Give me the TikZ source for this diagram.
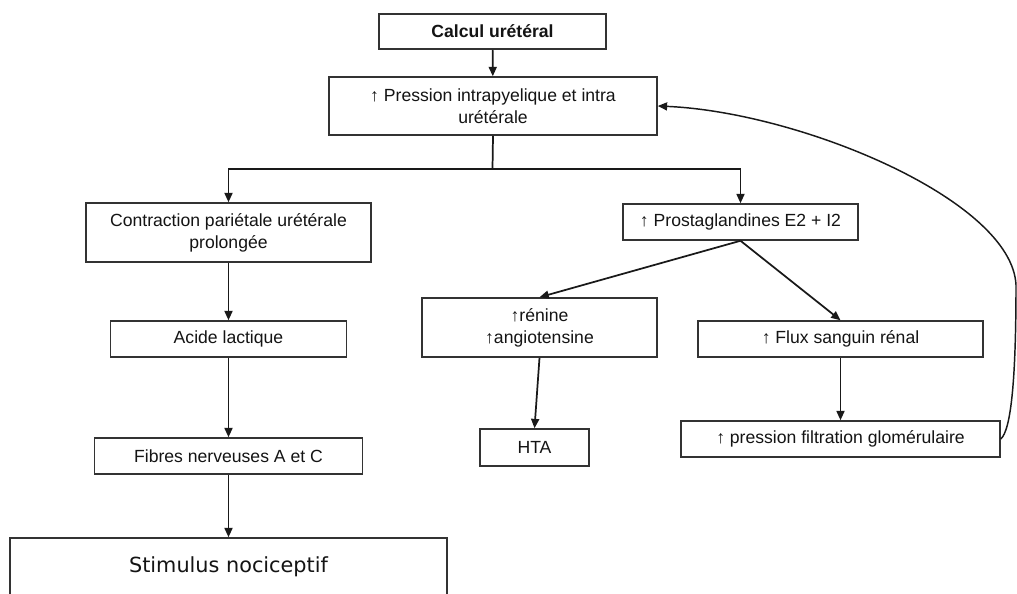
\documentclass[tikz,border=0pt]{standalone}
\usepackage{fontspec}
\setmainfont{Liberation Sans}
\newfontfamily\stimfont{DejaVu Sans}
\usetikzlibrary{arrows.meta}
\begin{document}
\begin{tikzpicture}[x=0.75pt,y=-0.75pt,
  box/.style={draw=black!80,line width=1.15pt,rectangle,inner sep=0pt,align=center,
    font=\fontsize{13.2}{16.5}\selectfont,text=black!92},
  arr/.style={line width=1.3pt,draw=black!90,-{Triangle[length=7pt,width=6pt]}},
  link/.style={line width=1.3pt,draw=black!90},
]
\path[use as bounding box] (0,0) rectangle (1017,593);
\clip (0,0) rectangle (1017,593);
\fill[white] (0,0) rectangle (1017,593);

\node[box,minimum width=170.25pt,minimum height=26.25pt] (calc) at (492.5,31.5) {\bfseries Calcul urétéral};
\node[box,minimum width=246pt,minimum height=43.5pt] (press) at (493,106) {↑ Pression intrapyelique et intra\\urétérale};
\node[box,minimum width=213.75pt,minimum height=44.25pt] (contr) at (228.5,232.5) {Contraction pariétale urétérale\\prolongée};
\node[box,minimum width=177pt,minimum height=27pt] (acide) at (228.5,339) {Acide lactique};
\node[box,minimum width=201pt,minimum height=27pt] (fibres) at (228.5,456) {Fibres nerveuses A et C};
\node[box,minimum width=327.75pt,minimum height=43.5pt,font=\stimfont\fontsize{15.6}{18}\selectfont] (stim) at (228.5,567) {Stimulus nociceptif};
\node[box,minimum width=176.25pt,minimum height=27pt] (prost) at (740.5,222) {↑ Prostaglandines E2 + I2};
\node[box,minimum width=176.25pt,minimum height=44.25pt] (renine) at (539.5,327.5) {↑rénine\\↑angiotensine};
\node[box,minimum width=213.75pt,minimum height=27pt] (flux) at (840.5,339) {↑ Flux sanguin rénal};
\node[box,minimum width=81.75pt,minimum height=27.75pt] (hta) at (534.5,447.5) {HTA};
\node[box,minimum width=239.25pt,minimum height=27pt] (filt) at (840.5,439) {↑ pression filtration glomérulaire};

\coordinate (j) at (492.5,169);
\coordinate (fb) at (1016,285);

\draw[arr] (calc) -- (press);
\draw[link] (press.south) -- (j);
\draw[arr] (j) -| (contr.north);
\draw[arr] (j) -| (prost.north);
\draw[arr] (contr) -- (acide);
\draw[arr] (acide) -- (fibres);
\draw[arr] (fibres) -- (stim);
\draw[arr] (prost.south) -- (renine.north);
\draw[arr] (prost.south) -- (flux.north);
\draw[arr] (renine.south) -- (hta.north);
\draw[arr] (flux) -- (filt);
\draw[arr,line width=1.1pt] (filt.east) .. controls (1011,430) and (1016,380) .. (fb)
  .. controls (1012,200) and (800,112) .. (press.east);
\end{tikzpicture}
\end{document}
